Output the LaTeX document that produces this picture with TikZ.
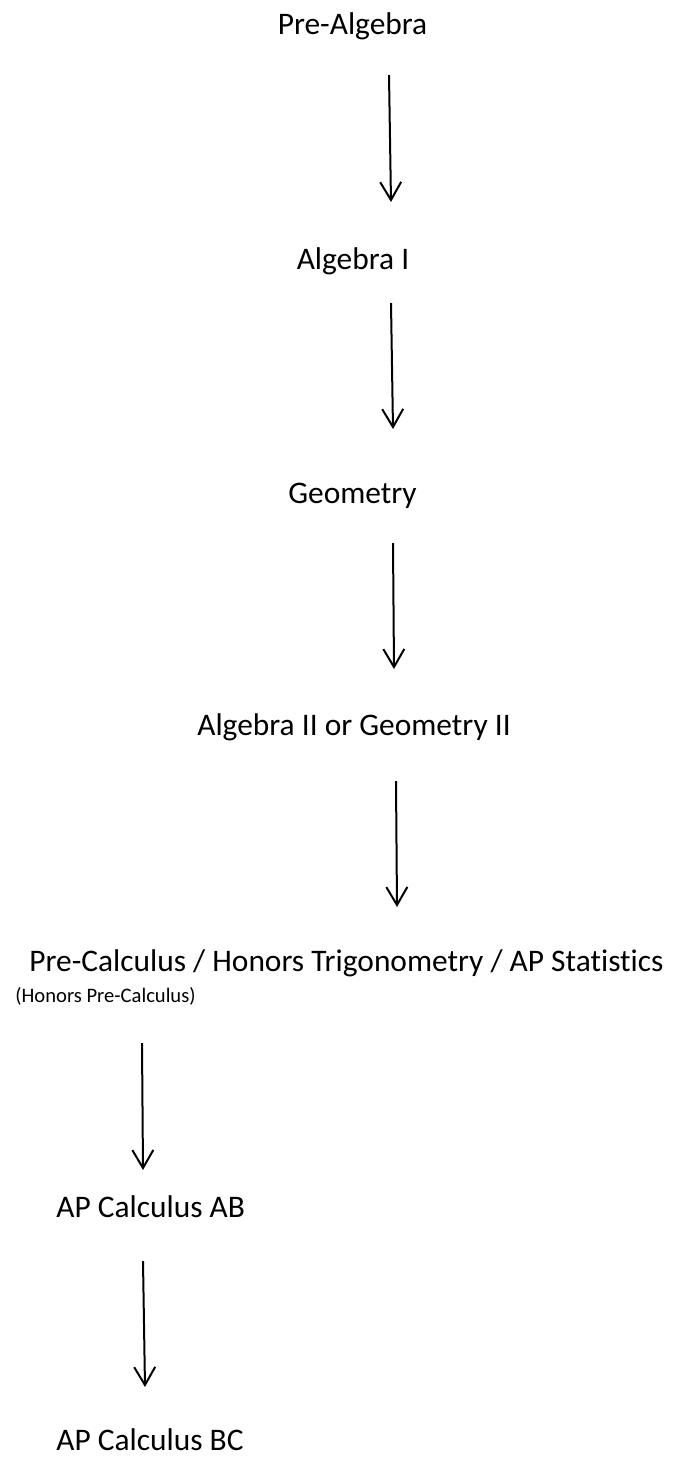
\documentclass[tikz,border=0pt]{standalone}
\usepackage{fontspec}
\setmainfont{Carlito}[Ligatures=NoCommon]
\usetikzlibrary{arrows.meta}
\tikzset{every node/.append style={inner sep=0pt}}

\begin{document}
\begin{tikzpicture}[x=0.5pt, y=-0.5pt,
    c/.style={font=\fontsize{15.7}{19}\selectfont, anchor=base},
    l/.style={c, anchor=base west},
    sm/.style={font=\fontsize{10.3}{12}\selectfont, anchor=base west},
    a/.style={-{Straight Barb[length=9pt, width=10.5pt]}, line width=1pt}]
\useasboundingbox (0,0) rectangle (683,1457);
\node[c] (prealg) at (352.5,34) {Pre-Algebra};
\node[c] (alg1) at (353,269) {Algebra I};
\node[c] (geo) at (352.5,503) {Geometry};
\node[c] (alg2) at (354,735) {Algebra II or Geometry II};
\node[l] (precalc) at (29,971) {Pre-Calculus / Honors Trigonometry / AP Statistics};
\node[sm] (hprecalc) at (15,1002) {(Honors Pre-Calculus)};
\node[l] (calcab) at (56,1217) {AP Calculus AB};
\node[l] (calcbc) at (56,1450) {AP Calculus BC};
% arrow ends
\coordinate (s1) at (389,75);   \coordinate (t1) at (391,202);
\coordinate (s2) at (391,303);  \coordinate (t2) at (393,429);
\coordinate (s3) at (393,543);  \coordinate (t3) at (394,669);
\coordinate (s4) at (396,781);  \coordinate (t4) at (397,907);
\coordinate (s5) at (142,1043); \coordinate (t5) at (143,1170);
\coordinate (s6) at (143,1261); \coordinate (t6) at (145,1387);
\draw[a] (s1) -- (t1);
\draw[a] (s2) -- (t2);
\draw[a] (s3) -- (t3);
\draw[a] (s4) -- (t4);
\draw[a] (s5) -- (t5);
\draw[a] (s6) -- (t6);
\end{tikzpicture}
\end{document}
